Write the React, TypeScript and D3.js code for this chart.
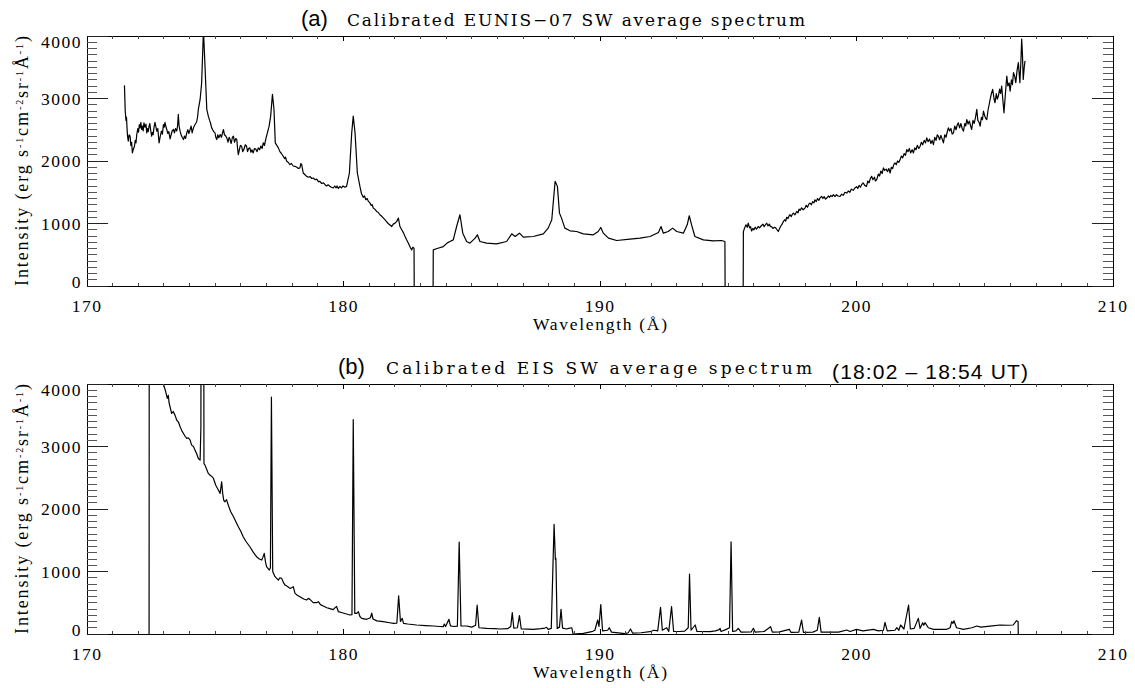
import * as d3 from "d3";

// (a) EUNIS-07 SW average spectrum: [wavelength Å, intensity]
const eunisSpectrum: [number, number][] = [
  [171.46, 3210], [171.48, 2950], [171.49, 2800], [171.52, 2650], [171.54, 2700], [171.56, 2530],
  [171.58, 2400], [171.61, 2317], [171.64, 2420], [171.68, 2397], [171.71, 2250], [171.74, 2300],
  [171.77, 2129], [171.8, 2180], [171.85, 2236], [171.88, 2330], [171.91, 2290], [171.94, 2424],
  [171.98, 2520], [172.01, 2460], [172.04, 2584], [172.07, 2530], [172.1, 2620], [172.13, 2504],
  [172.16, 2560], [172.19, 2480], [172.22, 2611], [172.26, 2540], [172.3, 2590], [172.33, 2450],
  [172.36, 2520], [172.39, 2470], [172.42, 2557], [172.45, 2600], [172.48, 2500], [172.52, 2397],
  [172.55, 2460], [172.58, 2420], [172.61, 2531], [172.65, 2620], [172.68, 2560], [172.72, 2477],
  [172.76, 2520], [172.81, 2290], [172.85, 2380], [172.9, 2480], [172.94, 2430], [172.98, 2584],
  [173.01, 2540], [173.04, 2620], [173.07, 2560], [173.11, 2504], [173.15, 2440], [173.19, 2470],
  [173.24, 2354], [173.28, 2420], [173.32, 2480], [173.37, 2504], [173.41, 2450], [173.45, 2520],
  [173.5, 2480], [173.53, 2560], [173.56, 2745], [173.59, 2560], [173.63, 2477], [173.67, 2420],
  [173.71, 2380], [173.76, 2343], [173.8, 2400], [173.84, 2360], [173.89, 2450], [173.93, 2500],
  [173.97, 2440], [174.02, 2504], [174.06, 2560], [174.1, 2450], [174.15, 2530], [174.21, 2584],
  [174.27, 2620], [174.31, 2700], [174.34, 2825], [174.41, 2985], [174.47, 3253], [174.54, 4100],
  [174.6, 3520], [174.67, 2825], [174.73, 2718], [174.78, 2650], [174.82, 2600], [174.86, 2530],
  [174.9, 2500], [174.94, 2470], [174.99, 2450], [175.02, 2380], [175.06, 2343], [175.1, 2420],
  [175.14, 2370], [175.19, 2424], [175.24, 2380], [175.28, 2440], [175.32, 2504], [175.36, 2420],
  [175.41, 2400], [175.45, 2370], [175.5, 2300], [175.54, 2380], [175.58, 2343], [175.62, 2280],
  [175.67, 2380], [175.71, 2397], [175.75, 2300], [175.8, 2360], [175.84, 2343], [175.87, 2200],
  [175.9, 2103], [175.94, 2180], [175.98, 2250], [176.03, 2236], [176.07, 2150], [176.12, 2190],
  [176.17, 2260], [176.22, 2236], [176.26, 2150], [176.3, 2200], [176.35, 2210], [176.39, 2140],
  [176.43, 2180], [176.48, 2129], [176.53, 2200], [176.58, 2190], [176.63, 2150], [176.68, 2210],
  [176.73, 2180], [176.78, 2240], [176.83, 2200], [176.87, 2290], [176.92, 2250], [176.96, 2330],
  [177.0, 2397], [177.1, 2557], [177.16, 2718], [177.23, 3066], [177.29, 2825], [177.34, 2290],
  [177.4, 2250], [177.46, 2210], [177.52, 2150], [177.58, 2120], [177.65, 2076], [177.7, 2040],
  [177.74, 2060], [177.78, 2000], [177.84, 1980], [177.91, 1942], [177.97, 1960], [178.04, 1920],
  [178.11, 1915], [178.18, 1900], [178.24, 1880], [178.3, 1889], [178.34, 1960], [178.37, 1942],
  [178.43, 1808], [178.5, 1780], [178.56, 1755], [178.62, 1740], [178.7, 1750], [178.76, 1720],
  [178.82, 1728], [178.9, 1700], [178.96, 1710], [179.02, 1670], [179.08, 1675], [179.15, 1640],
  [179.22, 1650], [179.28, 1621], [179.34, 1600], [179.4, 1620], [179.47, 1594], [179.53, 1580],
  [179.6, 1568], [179.66, 1600], [179.71, 1570], [179.75, 1600], [179.8, 1560], [179.86, 1594],
  [179.92, 1570], [179.98, 1600], [180.05, 1580], [180.12, 1594], [180.23, 1808], [180.32, 2450],
  [180.38, 2718], [180.45, 2450], [180.54, 1808], [180.64, 1594], [180.7, 1480], [180.77, 1420],
  [180.82, 1440], [180.87, 1380], [180.92, 1400], [180.97, 1354], [181.03, 1330], [181.08, 1290],
  [181.12, 1300], [181.16, 1247], [181.22, 1230], [181.29, 1193], [181.35, 1180], [181.42, 1140],
  [181.48, 1120], [181.55, 1090], [181.62, 1059], [181.68, 1030], [181.74, 1000], [181.8, 980],
  [181.88, 952], [181.94, 990], [182.01, 1006], [182.07, 1030], [182.14, 1086], [182.2, 952],
  [182.27, 900], [182.34, 850], [182.4, 792], [182.46, 740], [182.53, 685], [182.6, 620],
  [182.66, 578], [182.7, 620], [182.75, 605], [182.76, -300], [183.49, -300], [183.5, 578],
  [183.65, 600], [183.89, 631], [184.05, 690], [184.15, 712], [184.28, 738], [184.41, 952],
  [184.54, 1140], [184.65, 845], [184.8, 712], [184.93, 685], [185.13, 765], [185.22, 819],
  [185.32, 712], [185.58, 685], [185.97, 674], [186.36, 712], [186.56, 835], [186.69, 792],
  [186.86, 845], [187.01, 781], [187.4, 792], [187.79, 835], [187.98, 926], [188.12, 1059],
  [188.25, 1675], [188.34, 1594], [188.42, 1166], [188.5, 1086], [188.63, 926], [188.83, 883],
  [189.09, 872], [189.35, 835], [189.74, 819], [189.93, 872], [190.03, 936], [190.13, 845],
  [190.33, 765], [190.65, 728], [191.17, 749], [191.56, 765], [191.95, 792], [192.28, 856],
  [192.38, 952], [192.47, 845], [192.66, 872], [192.83, 926], [192.99, 872], [193.25, 845],
  [193.4, 979], [193.48, 1124], [193.57, 979], [193.7, 792], [194.03, 738], [194.42, 722],
  [194.74, 728], [194.87, 712], [194.88, -300], [195.58, -300], [195.59, 872], [195.64, 930],
  [195.69, 979], [195.74, 940], [195.78, 1006], [195.83, 930], [195.87, 950], [195.91, 880],
  [195.96, 920], [196.0, 900], [196.05, 940], [196.1, 910], [196.17, 952], [196.22, 930],
  [196.28, 960], [196.35, 990], [196.4, 950], [196.45, 980], [196.5, 1006], [196.55, 960],
  [196.6, 990], [196.65, 950], [196.69, 952], [196.74, 920], [196.8, 940], [196.85, 930],
  [196.9, 900], [196.95, 872], [197.0, 920], [197.05, 960], [197.1, 990], [197.15, 1033],
  [197.2, 1060], [197.24, 1040], [197.28, 1100], [197.33, 1080], [197.37, 1120], [197.41, 1140],
  [197.46, 1110], [197.5, 1150], [197.54, 1166], [197.6, 1140], [197.67, 1193], [197.72, 1170],
  [197.76, 1230], [197.8, 1210], [197.86, 1250], [197.92, 1220], [197.99, 1247], [198.04, 1290],
  [198.09, 1260], [198.14, 1310], [198.19, 1327], [198.24, 1300], [198.29, 1350], [198.34, 1330],
  [198.38, 1380], [198.43, 1350], [198.48, 1400], [198.53, 1370], [198.58, 1410], [198.64, 1434],
  [198.69, 1400], [198.74, 1430], [198.79, 1390], [198.84, 1407], [198.9, 1440], [198.95, 1420],
  [199.0, 1450], [199.05, 1430], [199.1, 1461], [199.16, 1430], [199.22, 1460], [199.28, 1440],
  [199.36, 1434], [199.42, 1470], [199.48, 1450], [199.55, 1500], [199.62, 1487], [199.68, 1520],
  [199.74, 1500], [199.8, 1550], [199.87, 1530], [199.94, 1568], [200.0, 1590], [200.05, 1560],
  [200.1, 1610], [200.15, 1580], [200.2, 1621], [200.26, 1650], [200.32, 1610], [200.39, 1594],
  [200.44, 1680], [200.49, 1650], [200.54, 1720], [200.59, 1755], [200.64, 1700], [200.7, 1740],
  [200.74, 1680], [200.79, 1701], [200.85, 1790], [200.9, 1760], [200.95, 1840], [201.0, 1800],
  [201.05, 1889], [201.1, 1850], [201.16, 1870], [201.21, 1830], [201.26, 1880], [201.31, 1808],
  [201.36, 1900], [201.41, 1880], [201.46, 1950], [201.5, 1969], [201.55, 1940], [201.6, 2000],
  [201.65, 1980], [201.7, 2022], [201.75, 2080], [201.8, 2050], [201.86, 2120], [201.91, 2090],
  [201.96, 2183], [202.01, 2150], [202.06, 2200], [202.11, 2130], [202.17, 2180], [202.22, 2129],
  [202.27, 2210], [202.32, 2180], [202.37, 2250], [202.43, 2200], [202.48, 2236], [202.53, 2300],
  [202.58, 2260], [202.64, 2330], [202.69, 2290], [202.74, 2370], [202.79, 2310], [202.85, 2350],
  [202.9, 2280], [202.95, 2330], [203.0, 2263], [203.05, 2380], [203.1, 2330], [203.15, 2420],
  [203.19, 2397], [203.24, 2340], [203.29, 2410], [203.34, 2350], [203.39, 2290], [203.44, 2420],
  [203.49, 2380], [203.54, 2470], [203.58, 2531], [203.63, 2480], [203.68, 2520], [203.73, 2430],
  [203.78, 2450], [203.83, 2560], [203.88, 2500], [203.93, 2580], [203.97, 2611], [204.02, 2530],
  [204.07, 2600], [204.12, 2520], [204.17, 2477], [204.22, 2600], [204.26, 2560], [204.3, 2664],
  [204.35, 2590], [204.4, 2640], [204.45, 2560], [204.49, 2504], [204.54, 2650], [204.59, 2600],
  [204.64, 2700], [204.69, 2825], [204.73, 2650], [204.78, 2620], [204.82, 2557], [204.87, 2700],
  [204.91, 2660], [204.95, 2798], [205.0, 2720], [205.04, 2680], [205.08, 2664], [205.13, 2820],
  [205.17, 2900], [205.21, 2985], [205.26, 3080], [205.31, 3146], [205.36, 3000], [205.4, 2932],
  [205.45, 3080], [205.49, 2990], [205.53, 3039], [205.58, 3150], [205.62, 3080], [205.66, 3199],
  [205.7, 3000], [205.75, 2771], [205.8, 3050], [205.86, 3360], [205.9, 3200], [205.95, 3250],
  [205.99, 3119], [206.04, 3300], [206.08, 3220], [206.12, 3413], [206.17, 3350], [206.21, 3253],
  [206.26, 3450], [206.31, 3574], [206.37, 3253], [206.41, 3600], [206.44, 3950], [206.47, 3700],
  [206.5, 3306], [206.54, 3500], [206.57, 3601],
];

// (b) EIS SW average spectrum: [wavelength Å, intensity]
const eisSpectrum: [number, number][] = [
  [172.42, -100], [172.43, 8000], [172.7, 6000], [172.98, 4000], [173.07, 3875], [173.13, 3770],
  [173.17, 3820], [173.2, 3700], [173.3, 3528], [173.36, 3560], [173.43, 3502], [173.5, 3420],
  [173.56, 3395], [173.63, 3315], [173.7, 3250], [173.76, 3209], [173.83, 3160], [173.89, 3129],
  [173.95, 3140], [174.02, 3102], [174.08, 3022], [174.15, 3000], [174.21, 2942], [174.28, 2880],
  [174.34, 2809], [174.41, 2782], [174.44, 3300], [174.46, 9000], [174.54, 9000], [174.56, 2729],
  [174.6, 2702], [174.66, 2640], [174.73, 2569], [174.8, 2540], [174.87, 2520], [174.93, 2489],
  [175.02, 2380], [175.12, 2303], [175.19, 2250], [175.25, 2436], [175.29, 2250], [175.33, 2140],
  [175.38, 2116], [175.44, 2150], [175.51, 2060], [175.6, 1960], [175.71, 1876], [175.8, 1800],
  [175.9, 1716], [176.0, 1640], [176.09, 1556], [176.2, 1480], [176.35, 1396], [176.48, 1310],
  [176.61, 1237], [176.72, 1200], [176.81, 1183], [176.86, 1230], [176.91, 1290], [176.96, 1150],
  [177.0, 1077], [177.11, 1023], [177.15, 1060], [177.19, 3790], [177.24, 1000], [177.33, 917],
  [177.46, 863], [177.52, 900], [177.59, 890], [177.65, 830], [177.72, 783], [177.82, 760],
  [177.91, 730], [178.0, 745], [178.04, 757], [178.11, 650], [178.2, 620], [178.3, 597],
  [178.45, 560], [178.56, 544], [178.63, 570], [178.69, 554], [178.82, 501], [178.95, 501],
  [179.02, 517], [179.1, 470], [179.21, 448], [179.35, 420], [179.47, 405], [179.6, 390],
  [179.68, 426], [179.73, 440], [179.8, 357], [179.95, 340], [180.12, 320], [180.25, 304],
  [180.33, 310], [180.38, 3430], [180.44, 330], [180.52, 330], [180.58, 357], [180.64, 280],
  [180.71, 250], [180.9, 235], [181.05, 260], [181.1, 335], [181.15, 240], [181.3, 210],
  [181.55, 197], [181.8, 180], [181.95, 171], [182.08, 175], [182.15, 610], [182.22, 200],
  [182.29, 250], [182.34, 170], [182.5, 160], [182.85, 144], [183.2, 135], [183.5, 128],
  [183.75, 120], [183.89, 117], [183.93, 160], [183.98, 120], [184.11, 234], [184.17, 130],
  [184.3, 120], [184.44, 125], [184.51, 1470], [184.58, 130], [184.8, 128], [185.0, 110],
  [185.15, 140], [185.21, 464], [185.28, 100], [185.58, 91], [185.9, 85], [186.1, 80],
  [186.4, 85], [186.52, 120], [186.58, 341], [186.64, 95], [186.78, 100], [186.86, 293],
  [186.93, 80], [187.2, 78], [187.4, 75], [187.7, 85], [187.85, 95], [187.92, 107],
  [187.98, 75], [188.1, 90], [188.21, 1754], [188.26, 1194], [188.28, 1210], [188.33, 90],
  [188.42, 110], [188.48, 394], [188.54, 95], [188.7, 80], [188.78, 90], [188.9, 100],
  [188.95, 0], [189.35, 10], [189.68, 37], [189.8, 60], [189.91, 224], [189.96, 120],
  [190.03, 470], [190.1, 50], [190.3, 60], [190.36, 101], [190.45, 30], [190.97, 5],
  [191.1, 20], [191.19, 80], [191.27, 15], [191.6, 20], [191.95, 37], [192.1, 60],
  [192.25, 50], [192.36, 426], [192.43, 60], [192.6, 101], [192.68, 40], [192.79, 437],
  [192.87, 40], [193.1, 40], [193.3, 45], [193.44, 100], [193.49, 960], [193.55, 60],
  [193.71, 144], [193.78, 40], [194.29, 37], [194.5, 50], [194.65, 70], [194.68, 91],
  [194.72, 40], [194.9, 70], [195.05, 100], [195.11, 1476], [195.17, 40], [195.3, 50],
  [195.39, 91], [195.5, 30], [195.9, 35], [195.98, 91], [196.05, 30], [196.4, 40],
  [196.65, 117], [196.72, 30], [197.0, 35], [197.38, 75], [197.45, 25], [197.75, 30],
  [197.86, 224], [197.93, 25], [198.3, 30], [198.47, 60], [198.55, 266], [198.62, 30],
  [199.0, 30], [199.3, 30], [199.62, 64], [199.75, 40], [200.0, 75], [200.25, 50],
  [200.66, 75], [200.85, 50], [201.05, 60], [201.11, 187], [201.2, 50], [201.5, 60],
  [201.57, 101], [201.65, 60], [201.72, 144], [201.85, 80], [202.03, 464], [202.1, 80],
  [202.25, 90], [202.41, 250], [202.48, 90], [202.58, 181], [202.62, 140], [202.67, 181],
  [202.8, 100], [203.0, 75], [203.52, 75], [203.65, 100], [203.71, 197], [203.76, 170],
  [203.8, 213], [203.9, 100], [204.17, 75], [204.5, 100], [204.69, 128], [204.85, 110],
  [205.3, 130], [205.59, 144], [205.9, 140], [206.11, 144], [206.24, 213], [206.3, 200],
  [206.31, -100],
];

const xTickValues = [170, 180, 190, 200, 210];
const xMinorValues = d3.range(170, 210.5, 1);
const yTickValues = [0, 1000, 2000, 3000, 4000];
const yMinorValues = d3.range(0, 4001, 100);

const serif = "'Liberation Serif', 'DejaVu Serif', serif";
const wideSerif = "'DejaVu Serif', 'Liberation Serif', serif";
const sans = "'Liberation Sans', Arial, sans-serif";

const left = 87;
const right = 1113;
const plotH = 250;

const x = d3.scaleLinear().domain([170, 210]).range([left, right]);

type PanelProps = {
  id: string;
  top: number;
  data: [number, number][];
};

const Panel = ({ id, top, data }: PanelProps) => {
  const y = d3.scaleLinear().domain([0, 4000]).range([top + plotH, top]);
  const line = d3
    .line<[number, number]>()
    .x((d) => x(d[0]))
    .y((d) => y(d[1]));
  const bottom = top + plotH;

  return (
    <g>
      <defs>
        <clipPath id={`clip-${id}`}>
          <rect x={left} y={top} width={right - left} height={plotH} />
        </clipPath>
      </defs>
      <path
        d={line(data) ?? ""}
        fill="none"
        stroke="#000"
        strokeWidth={1.2}
        strokeLinejoin="round"
        clipPath={`url(#clip-${id})`}
      />
      <g strokeWidth={1} shapeRendering="crispEdges">
        <rect x={left} y={top} width={right - left} height={plotH} fill="none" stroke="#000" />
        {/* x ticks, top and bottom, pointing in */}
        {xMinorValues.map((v) => {
          const major = v % 10 === 0;
          const len = major ? 5 : 3;
          return (
            <g key={`x${v}`} stroke={major ? "#000" : "#444"}>
              <line x1={x(v)} x2={x(v)} y1={bottom} y2={bottom - len} />
              <line x1={x(v)} x2={x(v)} y1={top} y2={top + len} />
            </g>
          );
        })}
        {/* y ticks, left and right, pointing in */}
        {yMinorValues.map((v) => {
          const major = v % 1000 === 0;
          const len = major ? 21 : 10;
          return (
            <g key={`y${v}`} stroke={major ? "#222" : "#555"}>
              <line x1={left} x2={left + len} y1={y(v)} y2={y(v)} />
              <line x1={right} x2={right - len} y1={y(v)} y2={y(v)} />
            </g>
          );
        })}
      </g>
      <g fontFamily={serif} fontSize={17.5} fill="#000" letterSpacing={1.5}>
        {xTickValues.map((v) => (
          <text key={v} x={x(v)} y={bottom + 26} textAnchor="middle">
            {v}
          </text>
        ))}
        {yTickValues.map((v) => (
          <text
            key={v}
            x={left - 5}
            y={y(v) + (v === 4000 ? 6 : v === 0 ? -4 : 0)}
            textAnchor="end"
            dominantBaseline="central"
          >
            {v}
          </text>
        ))}
      </g>
      <text
        x={600}
        y={bottom + 44}
        textAnchor="middle"
        fontFamily={serif}
        fontSize={17.5}
        textLength={134}
        lengthAdjust="spacing"
      >
        Wavelength (Å)
      </text>
      <text
        transform={`translate(28, ${top + 125}) rotate(-90)`}
        textAnchor="middle"
        fontFamily={serif}
        fontSize={18}
        textLength={250}
        lengthAdjust="spacing"
      >
        Intensity (erg s
        <tspan fontSize={10} baselineShift="super">-1</tspan>
        cm
        <tspan fontSize={10} baselineShift="super">-2</tspan>
        sr
        <tspan fontSize={10} baselineShift="super">-1</tspan>
        Å
        <tspan fontSize={10} baselineShift="super">-1</tspan>)
      </text>
    </g>
  );
};

export default function App() {
  return (
    <svg
      width={1135}
      height={688}
      style={{ position: "absolute", left: 0, top: 0, background: "#fff" }}
    >
      <rect width={1135} height={688} fill="#fff" />
      <Panel id="a" top={36} data={eunisSpectrum} />
      <Panel id="b" top={384} data={eisSpectrum} />

      {/* panel titles */}
      <text x={301} y={26} fontFamily={sans} fontSize={22}>(a)</text>
      <text x={347} y={26} fontFamily={wideSerif} fontSize={17} textLength={458} lengthAdjust="spacing">
        Calibrated EUNIS−07 SW average spectrum
      </text>
      <text x={338} y={374} fontFamily={sans} fontSize={22}>(b)</text>
      <text x={386} y={374} fontFamily={wideSerif} fontSize={17} textLength={426} lengthAdjust="spacing">
        Calibrated EIS SW average spectrum
      </text>
      <text x={832} y={379} fontFamily={sans} fontSize={21} textLength={196} lengthAdjust="spacing">
        (18:02 – 18:54 UT)
      </text>
    </svg>
  );
}
